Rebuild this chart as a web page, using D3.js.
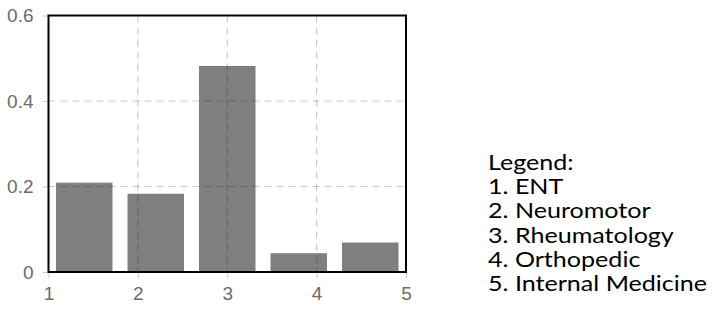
<!DOCTYPE html>
<html><head><meta charset="utf-8">
<script src="https://cdn.jsdelivr.net/npm/d3@7"></script>
<style>body{margin:0;background:#fff}svg{display:block}</style>
</head><body>
<svg id="c" width="713" height="330"></svg>
<script>
const categories = [1, 2, 3, 4, 5];
const values = [0.209, 0.183, 0.482, 0.044, 0.069];
const xTicks = [1, 2, 3, 4, 5];
const yTicks = [0, 0.2, 0.4, 0.6];
const legendTitle = "Legend:";
const legendItems = ["1. ENT", "2. Neuromotor", "3. Rheumatology", "4. Orthopedic", "5. Internal Medicine"];

const svg = d3.select("#c");
const L = 48.5, R = 406, T = 15.5, B = 272;
const x = d3.scaleLinear().domain([1, 5]).range([L, R]);
const y = d3.scaleLinear().domain([0, 0.6]).range([B, T]);
const bin = (5 - 1) / categories.length;
const pad = 0.084;

svg.append("g").selectAll("rect").data(categories).join("rect")
  .attr("x", (d, i) => x(1 + i * bin + pad))
  .attr("width", x(1 + bin - 2 * pad) - x(1))
  .attr("y", (d, i) => y(values[i]))
  .attr("height", (d, i) => y(0) - y(values[i]))
  .attr("fill", "#7f7f7f");

// grid
const grid = svg.append("g").attr("stroke", "rgba(0,0,0,0.2)").attr("stroke-width", 1.2).attr("stroke-dasharray", "7,5");
grid.selectAll(".v").data(xTicks.filter(d => d > 1 && d < 5)).join("line")
  .attr("x1", d => x(d)).attr("x2", d => x(d)).attr("y1", T).attr("y2", B);
grid.selectAll(".h").data(yTicks.filter(d => d > 0 && d < 0.6)).join("line")
  .attr("x1", L).attr("x2", R).attr("y1", d => y(d)).attr("y2", d => y(d));

// axes
const xa = svg.append("g").attr("transform", `translate(0,${B})`)
  .call(d3.axisBottom(x).tickValues(xTicks).tickFormat(d3.format("d")).tickSize(6).tickPadding(9));
const ya = svg.append("g").attr("transform", `translate(${L},0)`)
  .call(d3.axisLeft(y).tickValues(yTicks).tickFormat(d => d === 0 ? "0" : d3.format(".1f")(d)).tickSize(6).tickPadding(9));
[xa, ya].forEach(a => {
  a.select(".domain").remove();
  a.selectAll(".tick line").attr("stroke", "#ccc");
  a.selectAll("text").attr("fill", "#6b6b6b").attr("font-family", "Liberation Sans, Arial, sans-serif").attr("font-size", 19);
});

// frame
svg.append("rect").attr("x", L).attr("y", T).attr("width", R - L).attr("height", B - T)
  .attr("fill", "none").attr("stroke", "#000").attr("stroke-width", 2);

// legend
const lines = [legendTitle].concat(legendItems);
const lg = svg.append("g").attr("font-family", "Lato, 'Open Sans', sans-serif").attr("fill", "#000");
const items = lg.selectAll("g").data(lines).join("g")
  .attr("transform", (d, i) => `translate(488,${170 + i * 24.2}) scale(1,0.88)`);
const texts = items.append("text").attr("x", 0).attr("y", 0).attr("font-size", 18).text(d => d);
const w = d3.max(texts.nodes(), n => n.getComputedTextLength());
texts.attr("font-size", 18 * 219 / w);
</script>
</body></html>
